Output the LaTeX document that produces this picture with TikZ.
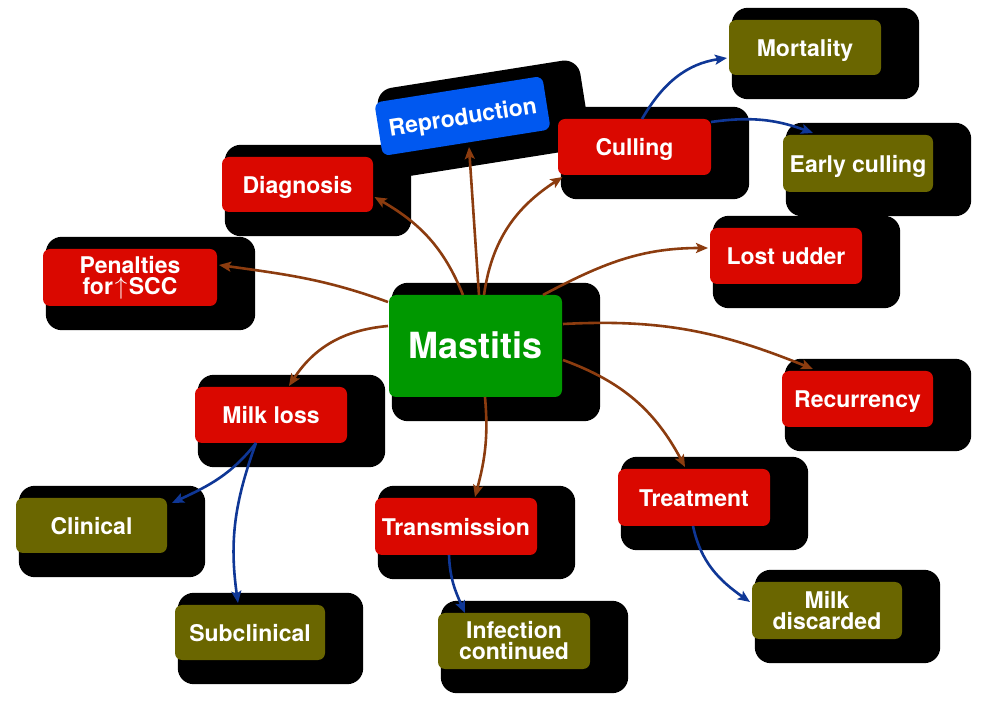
\documentclass[tikz,border=0pt]{standalone}
\usepackage{fontspec}
\setmainfont{TeX Gyre Heros}
\usetikzlibrary{arrows.meta,calc,backgrounds}
\definecolor{nodered}{RGB}{218,8,0}
\definecolor{nodegreen}{RGB}{0,152,0}
\definecolor{nodeblue}{RGB}{0,88,240}
\definecolor{nodeolive}{RGB}{106,102,0}
\definecolor{arrowbrown}{RGB}{140,60,15}
\definecolor{arrowblue}{RGB}{15,55,150}
\newcommand\nodeshadow[1]{\fill[black, rounded corners=16pt] ($(#1.south west)+(3,-24)$) rectangle ($(#1.north east)+(38,12)$);}
\begin{document}
\begin{tikzpicture}[x=1pt,y=1pt,
  box/.style={rounded corners=7pt, text=white, font=\bfseries\fontsize{23}{21}\selectfont, align=center, inner sep=0pt, minimum height=56pt, minimum width=152pt},
  oneline/.style={text height=18pt, text depth=0pt},
  redbox/.style={box, fill=nodered},
  olivebox/.style={box, fill=nodeolive},
  bluebox/.style={box, fill=nodeblue},
  greenbox/.style={box, fill=nodegreen, font=\bfseries\fontsize{36}{40}\selectfont, text height=26pt, text depth=0pt},
  tip/.style={-{Stealth[length=12pt,width=10pt,inset=2.5pt]}},
  brownarrow/.style={draw=arrowbrown, line width=2.6pt, tip},
  bluearrow/.style={draw=arrowblue, line width=2.6pt, tip}
]
\useasboundingbox (0,0) rectangle (989,-708);

% nodes
\node[greenbox, minimum width=173pt, minimum height=102pt] (m) at (475.5,-346) {Mastitis};
\node[bluebox, oneline, minimum width=170pt, minimum height=54pt, rotate=9] (rep) at (462.5,-116) {Reproduction};
\node[redbox, oneline, minimum width=153pt] (cul) at (634.5,-147) {Culling};
\node[olivebox, oneline, minimum height=55pt] (mor) at (805,-47.5) {Mortality};
\node[olivebox, oneline, minimum width=150pt, minimum height=57pt] (ear) at (858,-163.5) {Early culling};
\node[redbox, oneline] (los) at (786,-256) {Lost udder};
\node[redbox, oneline, minimum width=151pt] (rec) at (857.5,-399) {Recurrency};
\node[redbox, oneline, minimum height=57pt] (tre) at (694,-497.5) {Treatment};
\node[olivebox, minimum width=150pt, minimum height=57pt] (mdi) at (827,-610.5) {Milk\\discarded};
\node[redbox, oneline, minimum width=162pt, minimum height=57pt] (tra) at (456,-526.5) {Transmission};
\node[olivebox] (inf) at (514,-641) {Infection\\continued};
\node[redbox, oneline] (mil) at (271,-415) {Milk loss};
\node[olivebox, oneline, minimum width=151pt, minimum height=55pt] (cli) at (91.5,-525.5) {Clinical};
\node[olivebox, oneline, minimum width=150pt, minimum height=55pt] (sub) at (250,-632.5) {Subclinical};
\node[redbox, oneline, minimum width=151pt, minimum height=55pt] (dia) at (297.5,-184.5) {Diagnosis};
\node[redbox, minimum width=174pt, minimum height=57pt] (pen) at (130,-277.5) {Penalties\\for\kern2pt$\uparrow$\kern1.5ptSCC};

% shadows
\begin{scope}[on background layer]
  \fill[white] (0,0) rectangle (989,-708);
  \foreach \n in {m,cul,mor,ear,los,rec,tre,mdi,tra,inf,mil,cli,sub,dia,pen} {\nodeshadow{\n}}
  \begin{scope}[shift={(rep.center)}, rotate=9]
    \fill[black, rounded corners=16pt] (-82,-51) rectangle (123,39);
  \end{scope}
\end{scope}

% brown connectors
\draw[brownarrow] ($(m.center)+(-87.5,44)$) to[out=160,in=-8] ($(pen.center)+(89,12.5)$);
\draw[brownarrow] ($(m.center)+(-87.5,20)$) to[out=185,in=57] ($(mil.center)+(18,29)$);
\draw[brownarrow] ($(m.center)+(-12.5,51)$) to[out=112,in=-30] ($(dia.center)+(77,-12.5)$);
\draw[brownarrow] ($(m.center)+(3.5,51)$) -- ($(rep.center)+(6.5,-31)$);
\draw[brownarrow] ($(m.center)+(8.5,51)$) to[out=82,in=-147] ($(cul.center)+(-72,-30)$);
\draw[brownarrow] ($(m.center)+(67.5,51)$) to[out=28,in=180] ($(los.center)+(-78,8)$);
\draw[brownarrow] ($(m.center)+(87.5,22)$) to[out=3,in=158] ($(rec.center)+(-44.5,30)$);
\draw[brownarrow] ($(m.center)+(87.5,-14)$) to[out=-20,in=118] ($(tre.center)+(-9,30.5)$);
\draw[brownarrow] ($(m.center)+(9.5,-51)$) to[out=-85,in=75] ($(tra.center)+(19,29.5)$);

% blue connectors
\draw[bluearrow] ($(cul.center)+(7.5,28)$) to[out=60,in=-172] ($(mor.center)+(-78,-10.5)$);
\draw[bluearrow] ($(cul.center)+(76.5,25)$) to[out=8,in=160] ($(ear.center)+(-45,30.5)$);
\draw[bluearrow] ($(mil.center)+(-15,-28)$) to[out=-128,in=25] ($(cli.center)+(80.5,22.5)$);
\draw[bluearrow] ($(mil.center)+(-15,-28)$) to[out=-110,in=98] ($(sub.center)+(-12,29.5)$);
\draw[bluearrow] ($(tra.center)+(-7,-28.5)$) to[out=-88,in=114] ($(inf.center)+(-49,28)$);
\draw[bluearrow] ($(tre.center)+(-1,-28.5)$) to[out=-78,in=145] ($(mdi.center)+(-77,8.5)$);
\end{tikzpicture}
\end{document}
